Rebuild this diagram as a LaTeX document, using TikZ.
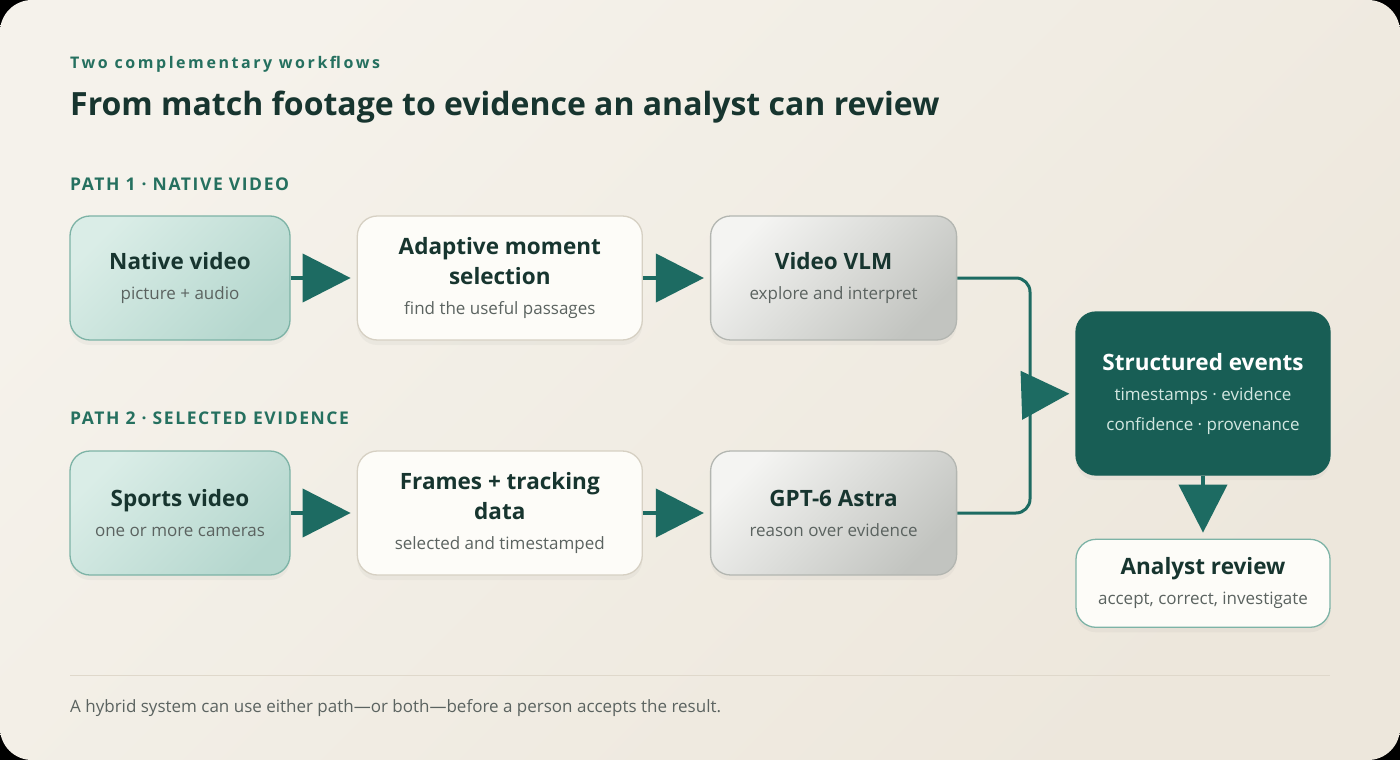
\documentclass[tikz,border=0pt]{standalone}
\usepackage{fontspec}
\setmainfont{Open Sans}
\usetikzlibrary{positioning,arrows.meta,shadows}

\definecolor{bgA}{HTML}{F5F2EB}
\definecolor{bgB}{HTML}{EDE7DC}
\definecolor{ink}{HTML}{17352F}
\definecolor{subink}{HTML}{5B6360}
\definecolor{teal}{HTML}{1D6B62}
\definecolor{tealtext}{HTML}{25705F}
\definecolor{deep}{HTML}{185E55}
\definecolor{srcA}{HTML}{DAEDE7}
\definecolor{srcB}{HTML}{B5D7CE}
\definecolor{srcline}{HTML}{7DB3A6}
\definecolor{paper}{HTML}{FDFCF8}
\definecolor{paperline}{HTML}{D6D0C3}
\definecolor{greyA}{HTML}{F4F4F2}
\definecolor{greyB}{HTML}{C2C4C0}
\definecolor{greyline}{HTML}{B3B6B1}
\definecolor{rulecol}{HTML}{DFD8CB}
\definecolor{pale}{HTML}{D3E7E1}

\newcommand{\boxtitle}{\fontsize{22.5}{30}\selectfont\bfseries}
\newcommand{\sub}{\fontsize{17}{32}\selectfont\mdseries\color{subink}}

\begin{document}
\begin{tikzpicture}[x=1pt,y=-1pt,
    card/.style={rounded corners=20pt, line width=1.3pt, minimum height=124pt,
      align=center, inner sep=0pt, font=\boxtitle, text=ink,
      drop shadow={shadow xshift=0pt, shadow yshift=-5pt, opacity=.07}},
    source/.style={card, draw=srcline, left color=srcA, right color=srcB, shading angle=45},
    plain/.style={card, draw=paperline, fill=paper},
    model/.style={card, draw=greyline, left color=greyA, right color=greyB, shading angle=45},
    result/.style={card, draw=deep, fill=deep, text=white},
    review/.style={card, draw=srcline, fill=paper, minimum height=88pt},
    flow/.style={draw=teal, line width=4pt, shorten >=6pt,
      -{Triangle[length=48pt,width=48pt]}},
    link/.style={draw=teal, line width=3pt, rounded corners=14pt},
    kicker/.style={anchor=west, inner sep=0pt, text=tealtext,
      font=\fontsize{16}{18}\selectfont\bfseries\addfontfeatures{LetterSpace=16}},
    pathlabel/.style={anchor=west, inner sep=0pt, text=tealtext,
      font=\fontsize{17.5}{19}\selectfont\bfseries\addfontfeatures{LetterSpace=9}}]

  % card
  \fill[black] (0,0) rectangle (1400,760);
  \shade[rounded corners=32pt, left color=bgA, right color=bgB, shading angle=45]
    (0,0) rectangle (1400,760);

  % heading
  \node[kicker] (kicker) at (70,64) {Two complementary workflows};
  \node[anchor=base west, inner sep=0pt, text=ink,
    font=\fontsize{32}{36}\selectfont\bfseries] (headline) at (70,115)
    {From match footage to evidence an analyst can review};

  % path 1
  \node[pathlabel] (path1) at (70,184) {PATH 1 · NATIVE VIDEO};
  \node[source, minimum width=220pt] (native) at (180,278)
    {Native video\\\sub picture + audio};
  \node[plain, minimum width=285pt, right=66pt of native] (adaptive)
    {Adaptive moment\\selection\\\sub find the useful passages};
  \node[model, minimum width=246pt, right=67pt of adaptive] (vlm)
    {Video VLM\\\sub explore and interpret};

  % path 2
  \node[pathlabel] (path2) at (70,418) {PATH 2 · SELECTED EVIDENCE};
  \node[source, minimum width=220pt] (sports) at (180,513)
    {Sports video\\\sub one or more cameras};
  \node[plain, minimum width=285pt, right=66pt of sports] (frames)
    {Frames + tracking\\data\\\sub selected and timestamped};
  \node[model, minimum width=246pt, right=67pt of frames] (astra)
    {GPT-6 Astra\\\sub reason over evidence};

  % outcome
  \node[result, minimum width=254pt, minimum height=163pt] (events) at (1203,393.5)
    {Structured events\\\sub\color{pale} timestamps · evidence\\\sub\color{pale} confidence · provenance};
  \node[review, minimum width=254pt, below=63pt of events] (analyst)
    {Analyst review\\\sub accept, correct, investigate};

  \draw[flow] (native) -- (adaptive);
  \draw[flow] (adaptive) -- (vlm);
  \draw[flow] (sports) -- (frames);
  \draw[flow] (frames) -- (astra);

  \coordinate (merge) at (1030,395);
  \draw[link] (vlm.east) -| (merge) |- (astra.east);
  \draw[flow, shorten <=-8pt] (merge) -- (events.west);
  \draw[flow] (events) -- (analyst);

  % footer
  \draw[rulecol, line width=1pt] (70,675) -- (1330,675);
  \node[anchor=west, inner sep=0pt, text=subink, font=\fontsize{17}{19}\selectfont]
    (note) at (70,708)
    {A hybrid system can use either path---or both---before a person accepts the result.};
\end{tikzpicture}
\end{document}
